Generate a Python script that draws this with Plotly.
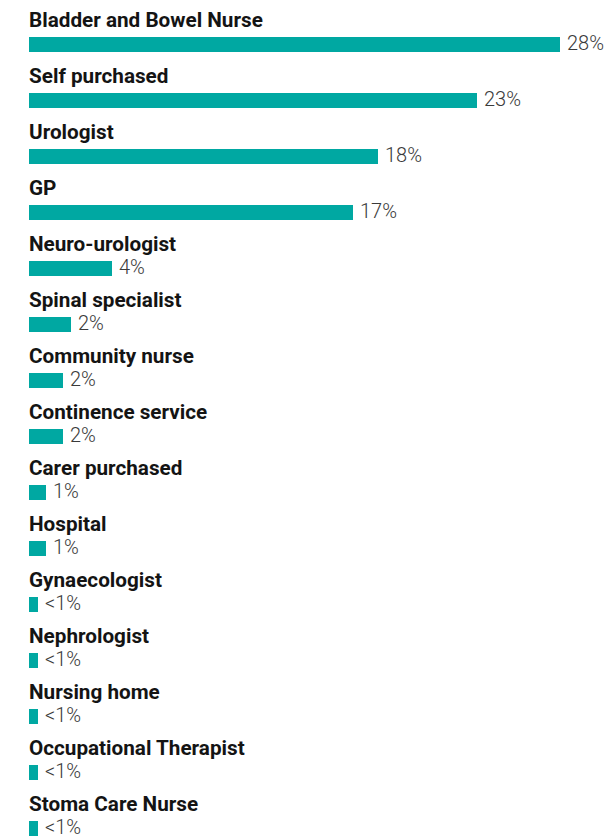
import plotly.graph_objects as go

# Where people source their continence products (% of respondents)
categories = [
    "Bladder and Bowel Nurse",
    "Self purchased",
    "Urologist",
    "GP",
    "Neuro-urologist",
    "Spinal specialist",
    "Community nurse",
    "Continence service",
    "Carer purchased",
    "Hospital",
    "Gynaecologist",
    "Nephrologist",
    "Nursing home",
    "Occupational Therapist",
    "Stoma Care Nurse",
]
shares = [27.66, 23.31, 18.18, 16.88, 4.32, 2.17, 1.75, 1.75, 0.89, 0.89,
          0.45, 0.47, 0.47, 0.47, 0.47]


def pct_label(v):
    return "<1%" if v < 0.5 else f"{round(v)}%"


value_labels = [pct_label(v) for v in shares]

BAR_COLOR = "#00a8a2"
W, H = 604, 837
ROW_PX = 56          # vertical distance between rows
FIRST_ROW_PX = 44    # centre of the first bar from the top
BAR_PX = 15          # bar thickness
PX_PER_PCT = 19.2
LEFT = 29

fig = go.Figure(
    go.Bar(
        x=shares,
        y=categories,
        orientation="h",
        marker=dict(color=BAR_COLOR, line=dict(width=0)),
        width=BAR_PX / ROW_PX,
        hoverinfo="skip",
    )
)

annotations = []
for cat, v, lab in zip(categories, shares, value_labels):
    annotations.append(dict(
        x=0, y=cat, xref="x", yref="y",
        text=cat, showarrow=False,
        xanchor="left", yanchor="middle", yshift=24, xshift=-2,
        font=dict(family="Roboto", size=20.7, color="#141414", weight=700),
    ))
    annotations.append(dict(
        x=v, y=cat, xref="x", yref="y",
        text=lab, showarrow=False,
        xanchor="left", yanchor="middle", xshift=5, yshift=1,
        font=dict(family="Roboto", size=20, color="#3a3a3a", weight=300),
    ))

span_y = H / ROW_PX
top_y = -FIRST_ROW_PX / ROW_PX
plot_w = W - LEFT

fig.update_layout(
    width=W, height=H,
    margin=dict(l=LEFT, r=0, t=0, b=0),
    paper_bgcolor="white", plot_bgcolor="white",
    showlegend=False,
    bargap=0,
    xaxis=dict(range=[0, plot_w / PX_PER_PCT], visible=False, fixedrange=True),
    yaxis=dict(
        type="category", categoryorder="array", categoryarray=categories,
        range=[top_y + span_y, top_y], visible=False, fixedrange=True,
    ),
    annotations=annotations,
)

fig.write_html("out.html", config={"displayModeBar": False})
